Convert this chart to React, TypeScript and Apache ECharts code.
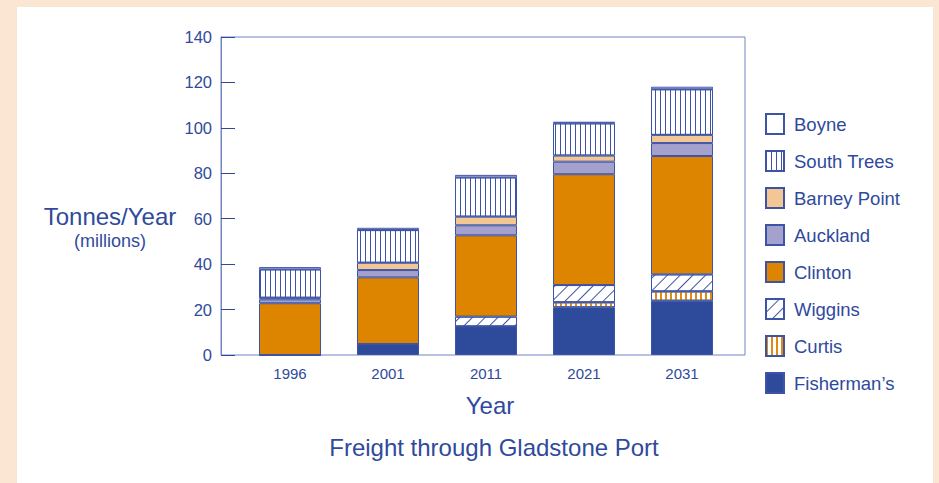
import React, { useEffect, useRef } from "react";
import * as echarts from "echarts";

const years = ["1996", "2001", "2011", "2021", "2031"];
const fishermans = [0, 4.8, 12.6, 21.0, 23.9];
const curtis = [0, 0, 0, 2.2, 4.1];
const wiggins = [0, 0, 4.3, 7.6, 7.5];
const clinton = [22.8, 29.4, 35.8, 48.8, 52.1];
const auckland = [1.7, 3.2, 4.4, 5.5, 5.7];
const barneyPoint = [0.7, 3.2, 3.8, 2.7, 3.6];
const southTrees = [12.5, 14.4, 17.3, 14.2, 20.1];
const boyne = [1.0, 1.0, 1.1, 0.7, 1.1];
const legendOrder = ["Boyne", "South Trees", "Barney Point", "Auckland", "Clinton", "Wiggins", "Curtis", "Fisherman\u2019s"];

const BLUE = "#2f4a9c";
const EDGE = "#3d53a6";
const FONT = "Liberation Sans, Arial, sans-serif";

export default function App() {
  const ref = useRef<HTMLDivElement>(null);
  useEffect(() => {
    const chart = echarts.init(ref.current!, null, { renderer: "svg" });
    const mk = (name: string, data: number[], color: string, decal?: any) => ({
      name,
      type: "bar",
      stack: "total",
      xAxisIndex: 1,
      yAxisIndex: 1,
      barWidth: 62,
      data,
      itemStyle: { color, borderColor: EDGE, borderWidth: 1, decal },
      emphasis: { disabled: true },
    });
    const vLines = {
      symbol: "rect",
      symbolSize: 1,
      color: EDGE,
      dashArrayX: [1, 3.7],
      dashArrayY: [10, 0],
      rotation: 0,
    };
    const orangeLines = {
      symbol: "rect",
      symbolSize: 1,
      color: "#e08a10",
      dashArrayX: [1.3, 2.7],
      dashArrayY: [10, 0],
      rotation: 0,
    };
    const diag = {
      symbol: "rect",
      symbolSize: 1,
      color: EDGE,
      dashArrayX: [10, 0],
      dashArrayY: [1, 8],
      rotation: -Math.PI / 4,
    };
    chart.setOption({
      animation: false,
      backgroundColor: "#fae6d2",
      graphic: [
        { type: "rect", shape: { x: 17, y: 7, width: 916, height: 480 }, style: { fill: "#ffffff" }, z: -10 },
        { type: "text", x: 110, y: 216, style: { text: "Tonnes/Year", fontSize: 24, fill: BLUE, fontFamily: FONT, align: "center", verticalAlign: "middle" } },
        { type: "text", x: 110, y: 241, style: { text: "(millions)", fontSize: 18, fill: BLUE, fontFamily: FONT, align: "center", verticalAlign: "middle" } },
        { type: "text", x: 490, y: 405, style: { text: "Year", fontSize: 24, fill: BLUE, fontFamily: FONT, align: "center", verticalAlign: "middle" } },
        { type: "text", x: 494, y: 447, style: { text: "Freight through Gladstone Port", fontSize: 24, fill: BLUE, fontFamily: FONT, align: "center", verticalAlign: "middle" } },
      ],
      grid: [
        { left: 221, top: 37, width: 524, height: 318, show: true, borderColor: "#7483c2", borderWidth: 1, backgroundColor: "transparent" },
        { left: 241, top: 37, width: 490, height: 318 },
      ],
      xAxis: [
        { type: "category", gridIndex: 0, data: years, show: false },
        {
          type: "category",
          gridIndex: 1,
          data: years,
          axisLine: { show: false },
          axisTick: { show: false },
          axisLabel: { fontSize: 15, color: BLUE, fontFamily: FONT, margin: 11 },
        },
      ],
      yAxis: [
        {
          type: "value",
          gridIndex: 0,
          min: 0,
          max: 140,
          interval: 20,
          axisLine: { show: true, lineStyle: { color: "#7483c2" } },
          axisTick: { show: true, inside: true, length: 14, lineStyle: { color: BLUE } },
          axisLabel: { fontSize: 16.5, color: BLUE, fontFamily: FONT, margin: 9 },
          splitLine: { show: false },
        },
        { type: "value", gridIndex: 1, min: 0, max: 140, interval: 20, show: false },
      ],
      legend: {
        orient: "vertical",
        left: 765,
        top: 113,
        padding: 0,
        itemWidth: 18,
        itemHeight: 20,
        itemGap: 15,
        icon: "rect",
        data: legendOrder,
        textStyle: { fontSize: 18.5, color: BLUE, fontFamily: FONT, padding: [0, 0, 0, 5] },
        selectedMode: false,
      },
      series: [
        mk("Fisherman\u2019s", fishermans, "#2e4a9b"),
        mk("Curtis", curtis, "#ffffff", orangeLines),
        mk("Wiggins", wiggins, "#ffffff", diag),
        mk("Clinton", clinton, "#dd8400"),
        mk("Auckland", auckland, "#a4a2cc"),
        mk("Barney Point", barneyPoint, "#f3c793"),
        mk("South Trees", southTrees, "#ffffff", vLines),
        mk("Boyne", boyne, "#ffffff"),
      ],
    });
    return () => chart.dispose();
  }, []);
  return (
    <div style={{ position: "absolute", left: 0, top: 0, width: 939, height: 483 }}>
      <div ref={ref} style={{ width: 939, height: 483 }} />
    </div>
  );
}
